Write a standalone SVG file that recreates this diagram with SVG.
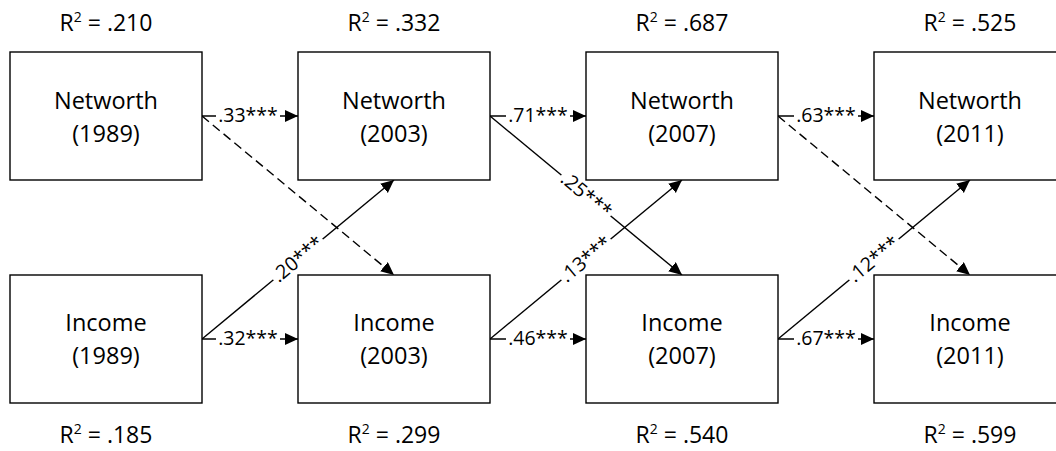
<svg xmlns="http://www.w3.org/2000/svg" width="1056" height="451" viewBox="0 0 1056 451">
<style>
.box{fill:#fff;stroke:#000;stroke-width:1.4}
.nt{font-family:"Open Sans","Liberation Sans",sans-serif;font-size:23.5px;text-anchor:middle;fill:#000}
.r2{font-family:"Open Sans","Liberation Sans",sans-serif;font-size:23px;text-anchor:middle;fill:#000}
.sup{font-size:14px}
.ln{stroke:#000;stroke-width:1.4;fill:none;marker-end:url(#ah)}
.dash{stroke-dasharray:9 5}
.lb{font-family:"Open Sans","Liberation Sans",sans-serif;font-size:19.5px;text-anchor:middle;fill:#000}
.bg{fill:#fff;stroke:none}
</style>
<defs>
<marker id="ah" markerUnits="userSpaceOnUse" markerWidth="14" markerHeight="13" refX="13" refY="6" orient="auto">
<path d="M0,0 L13,6 L0,12 Z" fill="#000"/>
</marker>
</defs>
<rect width="1056" height="451" fill="#fff"/>

<g id="connectors">
<line class="ln" x1="202" y1="116" x2="298" y2="116"/>
<line class="ln" x1="490" y1="116" x2="586" y2="116"/>
<line class="ln" x1="778" y1="116" x2="874" y2="116"/>
<line class="ln" x1="202" y1="339" x2="298" y2="339"/>
<line class="ln" x1="490" y1="339" x2="586" y2="339"/>
<line class="ln" x1="778" y1="339" x2="874" y2="339"/>
<line class="ln dash" x1="202" y1="116" x2="394" y2="275"/>
<line class="ln" x1="202" y1="339" x2="394" y2="180"/>
<line class="ln" x1="490" y1="116" x2="682" y2="275"/>
<line class="ln" x1="490" y1="339" x2="682" y2="180"/>
<line class="ln dash" x1="778" y1="116" x2="970" y2="275"/>
<line class="ln" x1="778" y1="339" x2="970" y2="180"/>

<g transform="translate(248,116)"><rect class="bg" x="-32" y="-8" width="64" height="16"/><text class="lb" x="0" y="6">.33***</text></g>
<g transform="translate(538,116)"><rect class="bg" x="-32" y="-8" width="64" height="16"/><text class="lb" x="0" y="6">.71***</text></g>
<g transform="translate(826,116)"><rect class="bg" x="-32" y="-8" width="64" height="16"/><text class="lb" x="0" y="6">.63***</text></g>
<g transform="translate(248,339)"><rect class="bg" x="-32" y="-8" width="64" height="16"/><text class="lb" x="0" y="6">.32***</text></g>
<g transform="translate(538,339)"><rect class="bg" x="-32" y="-8" width="64" height="16"/><text class="lb" x="0" y="6">.46***</text></g>
<g transform="translate(826,339)"><rect class="bg" x="-32" y="-8" width="64" height="16"/><text class="lb" x="0" y="6">.67***</text></g>

<g transform="translate(298,259.5) rotate(-39.63)"><rect class="bg" x="-32" y="-8" width="64" height="16"/><text class="lb" x="0" y="6">.20***</text></g>
<g transform="translate(586,195.5) rotate(39.63)"><rect class="bg" x="-32" y="-8" width="64" height="16"/><text class="lb" x="0" y="6">.25***</text></g>
<g transform="translate(586,259.5) rotate(-39.63)"><rect class="bg" x="-32" y="-8" width="64" height="16"/><text class="lb" x="0" y="6">.13***</text></g>
<g transform="translate(874,259.5) rotate(-39.63)"><rect class="bg" x="-32" y="-8" width="64" height="16"/><text class="lb" x="0" y="6">.12***</text></g>
</g>

<g id="nw1989">
<rect class="box" x="10" y="52" width="192" height="128"/>
<text class="nt" x="106" y="109">Networth</text>
<text class="nt" x="106" y="142">(1989)</text>
<text class="r2" x="106" y="31">R<tspan class="sup" dy="-9">2</tspan><tspan dy="9"> = .210</tspan></text>
</g>
<g id="nw2003">
<rect class="box" x="298" y="52" width="192" height="128"/>
<text class="nt" x="394" y="109">Networth</text>
<text class="nt" x="394" y="142">(2003)</text>
<text class="r2" x="394" y="31">R<tspan class="sup" dy="-9">2</tspan><tspan dy="9"> = .332</tspan></text>
</g>
<g id="nw2007">
<rect class="box" x="586" y="52" width="192" height="128"/>
<text class="nt" x="682" y="109">Networth</text>
<text class="nt" x="682" y="142">(2007)</text>
<text class="r2" x="682" y="31">R<tspan class="sup" dy="-9">2</tspan><tspan dy="9"> = .687</tspan></text>
</g>
<g id="nw2011">
<rect class="box" x="874" y="52" width="192" height="128"/>
<text class="nt" x="970" y="109">Networth</text>
<text class="nt" x="970" y="142">(2011)</text>
<text class="r2" x="970" y="31">R<tspan class="sup" dy="-9">2</tspan><tspan dy="9"> = .525</tspan></text>
</g>
<g id="inc1989">
<rect class="box" x="10" y="275" width="192" height="128"/>
<text class="nt" x="106" y="331">Income</text>
<text class="nt" x="106" y="364">(1989)</text>
<text class="r2" x="106" y="443">R<tspan class="sup" dy="-9">2</tspan><tspan dy="9"> = .185</tspan></text>
</g>
<g id="inc2003">
<rect class="box" x="298" y="275" width="192" height="128"/>
<text class="nt" x="394" y="331">Income</text>
<text class="nt" x="394" y="364">(2003)</text>
<text class="r2" x="394" y="443">R<tspan class="sup" dy="-9">2</tspan><tspan dy="9"> = .299</tspan></text>
</g>
<g id="inc2007">
<rect class="box" x="586" y="275" width="192" height="128"/>
<text class="nt" x="682" y="331">Income</text>
<text class="nt" x="682" y="364">(2007)</text>
<text class="r2" x="682" y="443">R<tspan class="sup" dy="-9">2</tspan><tspan dy="9"> = .540</tspan></text>
</g>
<g id="inc2011">
<rect class="box" x="874" y="275" width="192" height="128"/>
<text class="nt" x="970" y="331">Income</text>
<text class="nt" x="970" y="364">(2011)</text>
<text class="r2" x="970" y="443">R<tspan class="sup" dy="-9">2</tspan><tspan dy="9"> = .599</tspan></text>
</g>
</svg>
